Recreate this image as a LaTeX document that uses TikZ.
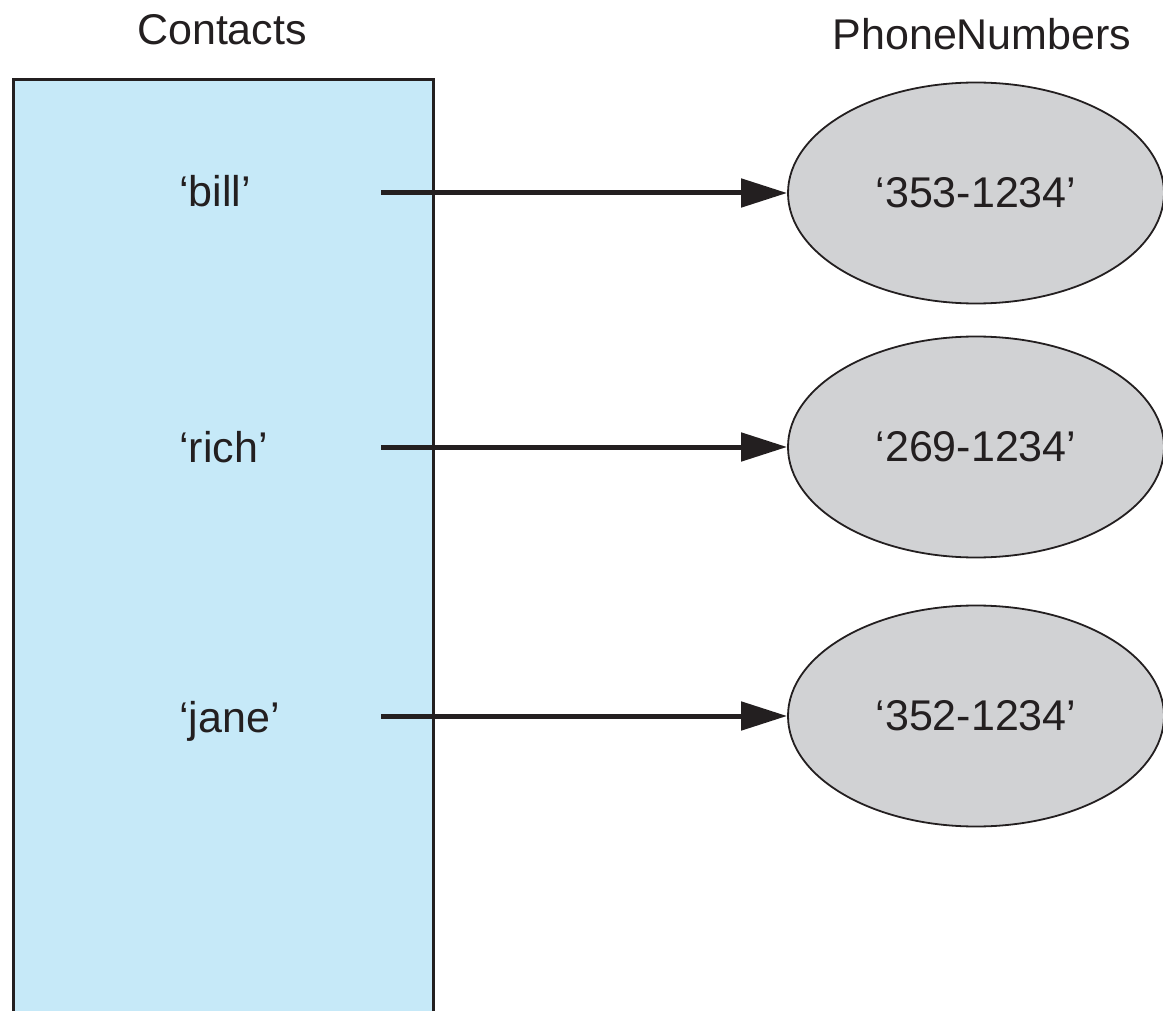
\documentclass[tikz,border=0pt]{standalone}
\usepackage{fontspec}
\setmainfont{Liberation Sans}
\usepackage{tikz}
\usetikzlibrary{positioning,shapes.geometric,arrows.meta}
\definecolor{keyblue}{RGB}{198,233,248}
\definecolor{valgray}{RGB}{209,210,212}
\definecolor{inkblack}{RGB}{35,31,32}

\begin{document}
\begin{tikzpicture}[x=1pt, y=-1pt, every node/.style={font=\fontsize{43}{50}\selectfont, text=inkblack},
	keybox/.style={draw=inkblack, line width=3pt, fill=keyblue, rectangle, minimum width=420pt, minimum height=980pt, anchor=north west, inner sep=0pt},
	valnode/.style={draw=inkblack, line width=1.8pt, fill=valgray, ellipse, minimum width=376pt, minimum height=221pt, inner sep=0pt},
	keyname/.style={anchor=base west, inner sep=0pt},
	title/.style={anchor=base, inner sep=0pt},
	ref/.style={draw=inkblack, line width=5pt, -{Triangle[length=46pt,width=28pt]}}]
	\useasboundingbox (0,0) rectangle (1163,1011);
	\node[keybox](contacts) at (12,78) {};
	\node[title](contactstitle) at (222,45) {Contacts};
	\node[title](phonetitle) at (982,50) {PhoneNumbers};
	\node[keyname](bill) at (179,207) {‘bill’};
	\node[keyname](rich) at (179,462) {‘rich’};
	\node[keyname](jane) at (179,732) {‘jane’};
	\node[valnode](num353) at (976,193) {‘353-1234’};
	\node[valnode](num269) at (976,447) {‘269-1234’};
	\node[valnode](num352) at (976,716) {‘352-1234’};
	\coordinate (billout) at (381,193);
	\coordinate (richout) at (381,447);
	\coordinate (janeout) at (381,716);
	\draw[ref] (billout) -- (num353.west);
    \draw[ref] (richout) -- (num269.west);
    \draw[ref] (janeout) -- (num352.west);
	\end{tikzpicture}
\end{document}
